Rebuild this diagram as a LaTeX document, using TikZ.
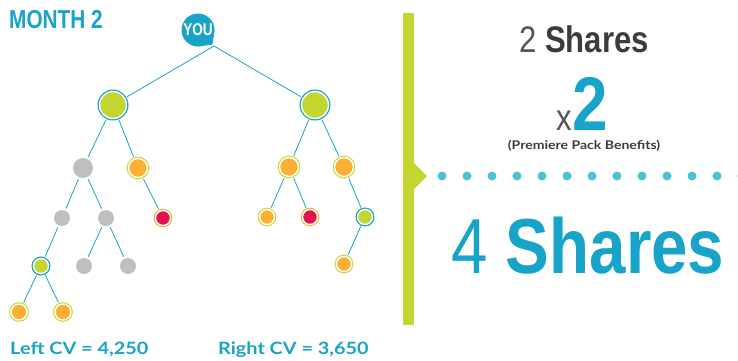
\documentclass[tikz,border=0pt]{standalone}
\usepackage{fontspec}
\setmainfont{Liberation Sans}
\newfontfamily\condA[FakeStretch=0.80]{Liberation Sans}
\newfontfamily\condB[FakeStretch=0.84]{Liberation Sans}
\newfontfamily\rnd[FakeStretch=1.17]{Lato}
\definecolor{tblue}{HTML}{18A4C8}
\definecolor{lime}{HTML}{C4D62E}
\definecolor{orng}{HTML}{FBAF33}
\definecolor{rred}{HTML}{E2124F}
\definecolor{gry}{HTML}{BEBFC1}
\definecolor{dotc}{HTML}{4CC4D6}
\definecolor{tgray}{HTML}{555555}
\definecolor{tdark}{HTML}{3C3C3C}
\begin{document}
\begin{tikzpicture}[x=1pt,y=-1pt,
  ringed/.style={circle, inner sep=0pt, draw=white, line width=1.4pt},
  gn/.style={ringed, minimum size=#1, fill=lime, preaction={draw=tblue, line width=4pt}},
  on/.style={ringed, minimum size=#1, fill=orng, preaction={draw=lime, line width=3.6pt}},
  rn/.style={ringed, minimum size=#1, fill=rred, preaction={draw=orng, line width=3.6pt}},
  gy/.style={circle, inner sep=0pt, minimum size=#1, fill=gry},
  link/.style={draw=tblue, line width=0.8pt, shorten >=2pt, shorten <=2pt},
  txt/.style={inner sep=0pt, anchor=base west}
]
\useasboundingbox (0,0) rectangle (738,360);

% YOU bubble
\fill[tblue] (198,30) -- (198,46.5) -- (212.5,44.5) -- (214.5,30) -- cycle;
\node[circle, fill=tblue, inner sep=0pt, minimum size=33pt, text=white,
      font=\condA\bfseries\fontsize{17}{17}\selectfont] (you) at (198,30) {YOU};
\coordinate (yt) at (214,46);

% tree nodes
\node[gn=27pt] (a) at (113,105) {};
\node[gn=27pt] (b) at (315,105) {};
\node[gy=20pt] (a1) at (83,168) {};
\node[on=19pt] (a2) at (138,168) {};
\node[on=19pt] (b1) at (289,167) {};
\node[on=19pt] (b2) at (344,167) {};
\node[gy=16pt] (a11) at (62,218) {};
\node[gy=16pt] (a12) at (106,218) {};
\node[rn=15pt] (a21) at (163,218) {};
\node[on=15pt] (b11) at (267,217) {};
\node[rn=15pt] (b12) at (310,217) {};
\node[gn=15pt] (b21) at (365,217) {};
\node[gn=15pt] (a111) at (41,266) {};
\node[gy=16pt] (a121) at (84,266) {};
\node[gy=16pt] (a122) at (128,266) {};
\node[on=15pt] (b211) at (344,264) {};
\node[on=16pt] (a1111) at (19,312) {};
\node[on=16pt] (a1112) at (63,312) {};

% connectors
\draw[link, shorten <=0pt] (yt) -- (a);
\draw[link, shorten <=0pt] (yt) -- (b);
\draw[link] (a) -- (a1);
\draw[link] (a) -- (a2);
\draw[link] (a1) -- (a11);
\draw[link] (a1) -- (a12);
\draw[link] (a2) -- (a21);
\draw[link] (a11) -- (a111);
\draw[link] (a12) -- (a121);
\draw[link] (a12) -- (a122);
\draw[link] (a111) -- (a1111);
\draw[link] (a111) -- (a1112);
\draw[link] (b) -- (b1);
\draw[link] (b) -- (b2);
\draw[link] (b1) -- (b11);
\draw[link] (b1) -- (b12);
\draw[link] (b2) -- (b21);
\draw[link] (b21) -- (b211);

% texts
\node[txt, text=tblue, font=\condA\bfseries\fontsize{26}{26}\selectfont] (month) at (9,28) {MONTH 2};
\node[txt, text=tblue, font=\rnd\bfseries\fontsize{17}{17}\selectfont] (lcv) at (10,354) {Left CV = 4,250};
\node[txt, text=tblue, font=\rnd\bfseries\fontsize{17}{17}\selectfont] (rcv) at (218,354) {Right CV = 3,650};

% green bar with notch
\fill[lime] (403,13) rectangle (414,325);
\fill[lime] (413,162) -- (427,176) -- (413,190) -- cycle;
\foreach \i in {0,...,12} \fill[dotc] (442+25*\i,176) circle (4.5pt);

\node[txt, font=\condB\fontsize{37}{37}\selectfont] (two) at (519,52) {\textcolor{tgray}{2} \textcolor{tdark}{\bfseries Shares}};
\node[txt, text=tgray, text depth=0pt, font=\condB\fontsize{37}{37}\selectfont] (x) at (556,130) {x};
\node[txt, text=tblue, text depth=0pt, font=\condB\bfseries\fontsize{76}{76}\selectfont] (big2) at (x.base east) {2};
\node[inner sep=0pt, anchor=base, text=tdark, font=\rnd\bfseries\fontsize{12}{12}\selectfont] (pp) at (584,149) {(Premiere Pack Benefits)};
\node[txt, text=tblue, font=\condB\fontsize{78}{78}\selectfont] (four) at (451,273) {4 \textbf{Shares}};
\end{tikzpicture}
\end{document}
